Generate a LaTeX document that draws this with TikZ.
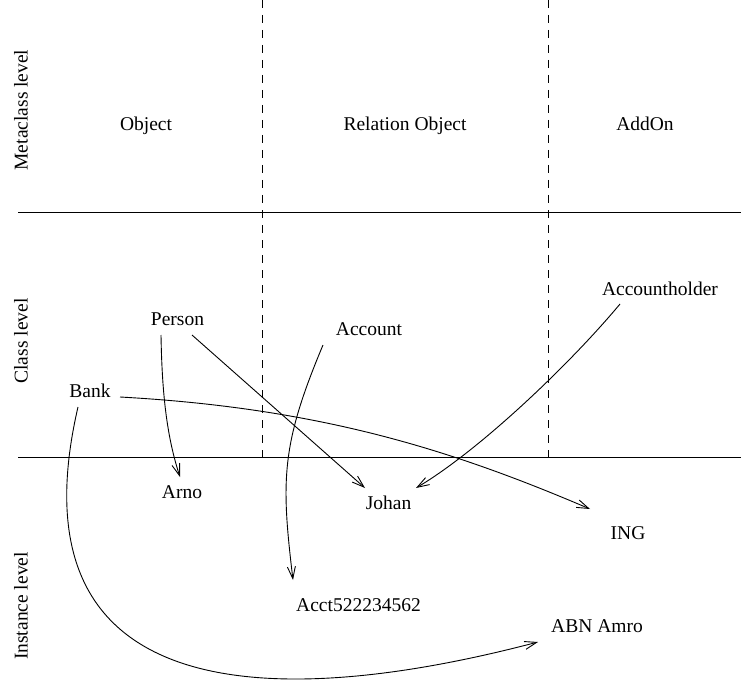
\documentclass[tikz,border=0pt]{standalone}
\usepackage{fontspec}
\setmainfont{Liberation Serif}
\usetikzlibrary{arrows.meta}

\begin{document}
\begin{tikzpicture}[x=1pt,y=-1pt,
	lbl/.style={anchor=base,inner sep=0pt,font=\fontsize{19.5}{23}\selectfont},
	lvl/.style={rotate=90,inner sep=0pt,font=\fontsize{19.5}{23}\selectfont},
	link/.style={line width=0.9pt,-{Straight Barb[length=12pt,width=8pt]}}]
	\useasboundingbox (0,0) rectangle (741,687);

	% levels and columns
	\draw[line width=1pt] (18,212) -- (741,212);
	\draw[line width=1pt] (18,457) -- (741,457);
	\draw[line width=0.9pt,dash pattern=on 8pt off 7pt] (262,0) -- (262,457);
	\draw[line width=0.9pt,dash pattern=on 8pt off 7pt] (548,0) -- (548,457);

	\node[lvl](meta) at (21,110) {Metaclass level};
	\node[lvl](cls) at (21,341) {Class level};
	\node[lvl](inst) at (21,606) {Instance level};

	\node[lbl](object) at (146,131) {Object};
	\node[lbl](relobj) at (405,131) {Relation Object};
	\node[lbl](addon) at (645,131) {AddOn};

	\node[lbl](person) at (177.5,325) {Person};
	\node[lbl](bank) at (90,397) {Bank};
	\node[lbl](account) at (369,335) {Account};
	\node[lbl](holder) at (660,295) {Accountholder};

	\node[lbl](arno) at (182,498) {Arno};
	\node[lbl](johan) at (388.5,509) {Johan};
	\node[lbl](acct) at (358.5,611) {Acct522234562};
	\node[lbl](ing) at (628,539) {ING};
	\node[lbl](abn) at (597,632) {ABN Amro};

	\draw[link] ([shift={(-16.5,10)}]person.base) .. controls (162,395) and (167,437) .. ([shift={(-2,-21)}]arno.base);
	\draw[link] ([shift={(14.5,10)}]person.base) -- ([shift={(-23.5,-21)}]johan.base);
	\draw[link] ([shift={(30,0)}]bank.base) .. controls (320,408) and (452,450) .. ([shift={(-38,-30)}]ing.base);
	\draw[link] ([shift={(-12,10)}]bank.base) .. controls (10,700) and (260,715) .. ([shift={(-59,10)}]abn.base);
	\draw[link] ([shift={(-46,10)}]account.base) .. controls (281,445) and (281,480) .. ([shift={(-65.5,-31)}]acct.base);
	\draw[link] ([shift={(-40,9)}]holder.base) .. controls (570,364) and (480,450) .. ([shift={(27.5,-21)}]johan.base);
\end{tikzpicture}
\end{document}
